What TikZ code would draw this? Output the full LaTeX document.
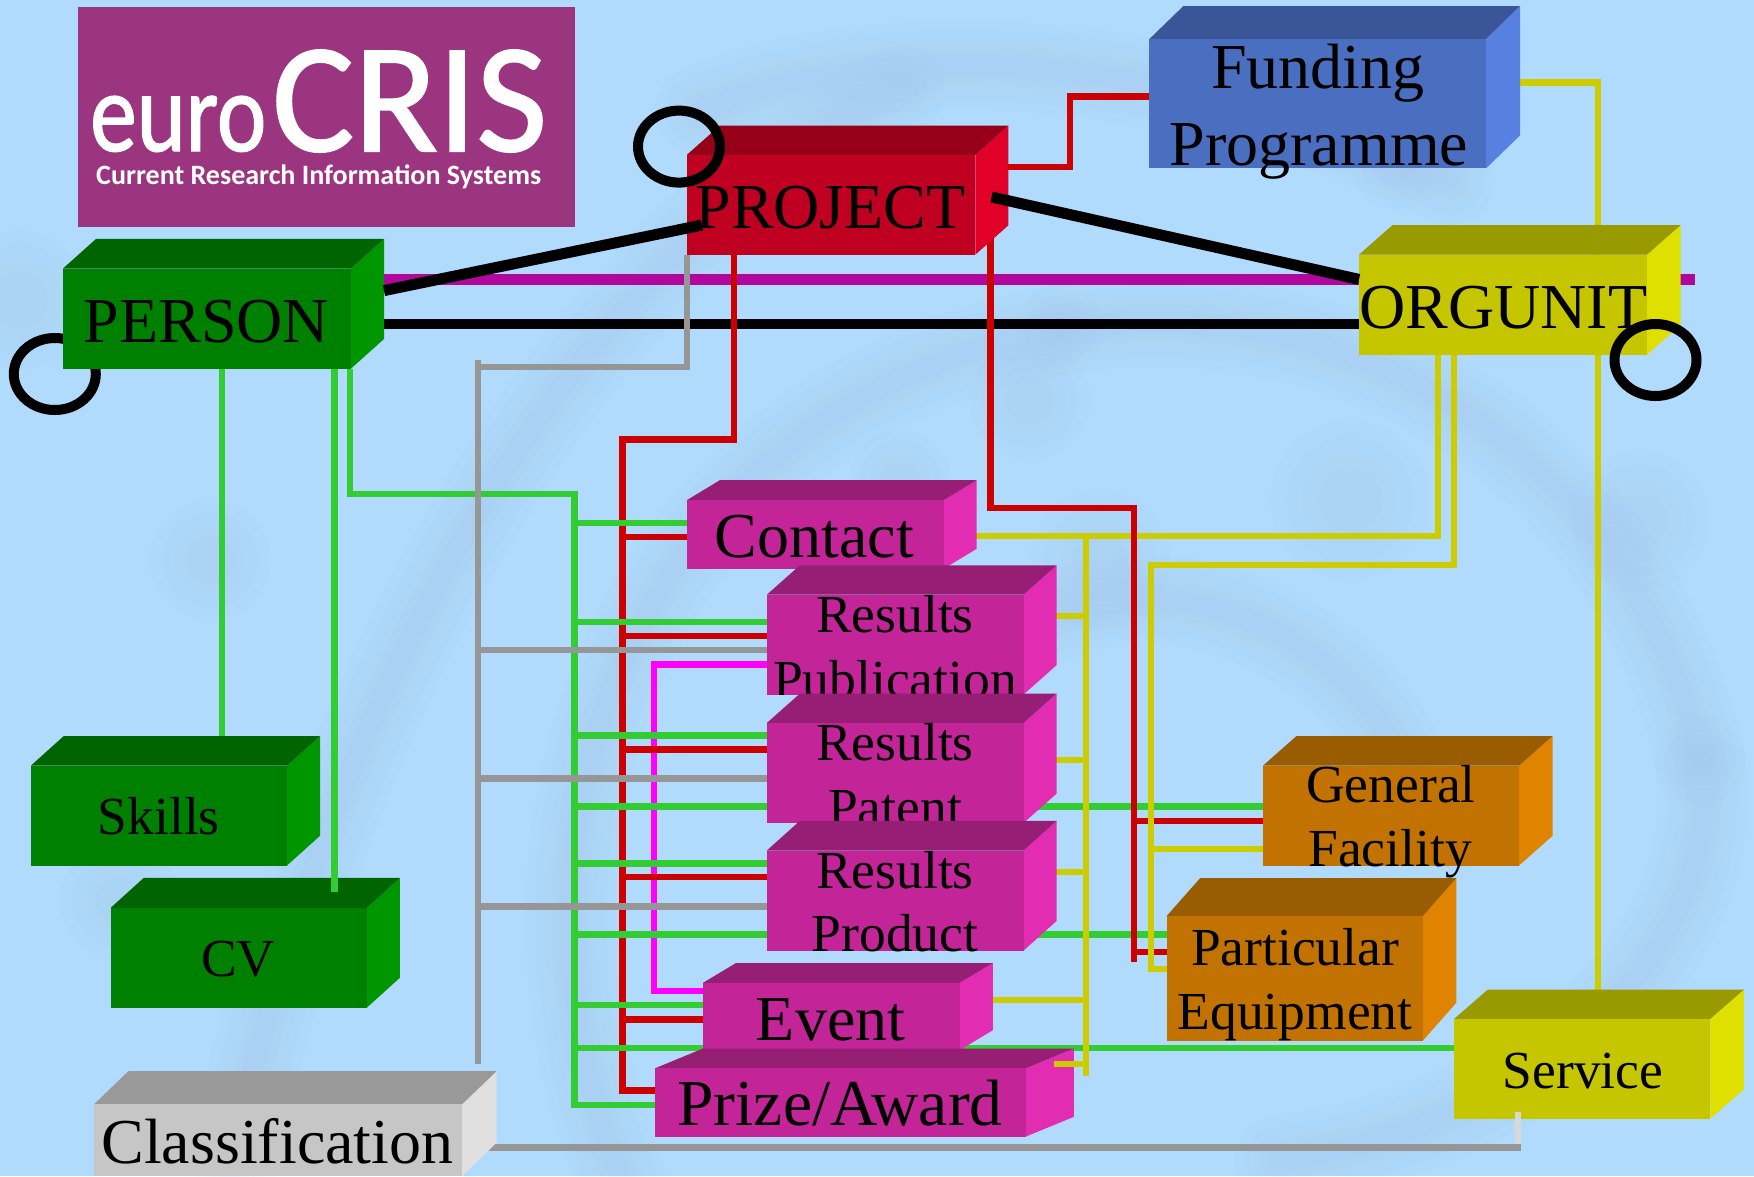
\documentclass[tikz,border=0pt]{standalone}
\usepackage{fontspec}
\setmainfont{Liberation Serif}
\newfontfamily\logofont[FakeBold=1.3]{Carlito}
\newfontfamily\logotagfont{Carlito}
\usetikzlibrary{calc}
\pgfdeclarelayer{back}
\pgfdeclarelayer{wires}
\pgfdeclarelayer{over}
\pgfsetlayers{back,wires,main,over}
\definecolor{bgblue}{HTML}{B1DBFC}
\definecolor{swirl}{HTML}{7A9CC2}
\definecolor{logoc}{HTML}{9C3580}
\definecolor{gn}{HTML}{33CC33}
\definecolor{rd}{HTML}{CC0000}
\definecolor{yl}{HTML}{CCCC00}
\definecolor{gy}{HTML}{969696}
\definecolor{mg}{HTML}{FF00FF}
\definecolor{pl}{HTML}{B0089C}
\definecolor{stub}{HTML}{D8D8D8}
\tikzset{
  x=1pt,y=-1pt,
  wire/.style={line width=6.3pt,line join=miter,line cap=butt},
  gwire/.style={wire,gn},
  rwire/.style={wire,rd},
  ywire/.style={wire,yl},
  gywire/.style={wire,gy},
  mwire/.style={wire,mg},
  thickbar/.style={line width=10.5pt,black},
  assoc/.style={line width=11pt,black},
  loopring/.style={line width=10pt,black},
  big/.style={font=\fontsize{64}{64}\selectfont,anchor=base,inner sep=0pt},
  small/.style={font=\fontsize{53.5}{53.5}\selectfont,anchor=base,inner sep=0pt},
  soft/.style={swirl,line cap=round,opacity=.02}
}
% name, x1,y1,x2,y2,dx,dy, front, side (top colour from \cubetop)
\newcommand{\cubebox}[9]{%
  \pgfmathsetmacro{\cbw}{#4-#2}\pgfmathsetmacro{\cbh}{#5-#3}%
  \fill[#9] (#4,#3) -- ++(#6,-#7) -- ++(0,\cbh) -- (#4,#5) -- cycle;
  \fill[\cubetop] (#2,#3) -- ++(#6,-#7) -- ++(\cbw,0) -- (#4,#3) -- cycle;
  \node[fill=#8,draw=none,inner sep=0pt,outer sep=0pt,anchor=north west,
        minimum width=\cbw pt,minimum height=\cbh pt] (#1) at (#2,#3) {};
}
\newcommand{\softarc}[1]{%
  \foreach \w in {90,70,52,36,22}{\draw[soft,line width=\w pt] #1;}%
}
\begin{document}
\begin{tikzpicture}
\useasboundingbox (0,0) rectangle (1754,1176);

% ---------- backdrop
\begin{pgfonlayer}{back}
\fill[bgblue] (0,0) rectangle (1754,1176);
\softarc{(230,1170) .. controls (330,700) and (560,260) .. (900,90)}
\softarc{(620,1176) .. controls (480,820) and (640,400) .. (1060,330)}
\softarc{(1060,330) .. controls (1380,280) and (1640,480) .. (1700,760)}
\softarc{(1700,760) .. controls (1730,960) and (1520,1130) .. (1280,1160)}
\softarc{(700,110) .. controls (900,30) and (1200,60) .. (1450,180)}
\softarc{(1050,620) .. controls (1180,560) and (1350,640) .. (1400,760)}
\foreach \a/\b/\r in {1100/560/70,1350/500/80,1030/400/60,1400/160/50,1640/520/70,210/560/60,900/480/50,120/900/60,20/300/70}{
  \foreach \k in {1,.8,.6,.4}{\fill[swirl,opacity=.02] (\a,\b) circle [radius=\k*\r];}
}
\end{pgfonlayer}

% ---------- logo
\node[fill=logoc,inner sep=0pt,outer sep=0pt,anchor=north west,minimum width=497pt,minimum height=220pt] (logo) at (78,7) {};
\node[anchor=base west,inner sep=0pt,text=white] (logoeuro) at (90,151)
  {\resizebox{176pt}{55pt}{\fontsize{100}{100}\logofont euro}};
\node[anchor=base west,inner sep=0pt,text=white] (logocris) at (272,151)
  {\resizebox{275pt}{101pt}{\fontsize{100}{100}\logofont CRIS}};
\node[anchor=base west,inner sep=0pt,text=white] (logotag) at (96,184.5)
  {\resizebox{445pt}{!}{\fontsize{30}{30}\logotagfont\bfseries Current Research Information Systems}};

% ---------- boxes
\definecolor{top1}{HTML}{006400}
\definecolor{fr1}{HTML}{008000}
\definecolor{sd1}{HTML}{009600}
\def\cubetop{top1}
\cubebox{person}{63}{268.5}{351}{368.6}{33}{29.6}{fr1}{sd1}
\node[big] (tperson) at (206.4,342) {PERSON};
\cubebox{skills}{30.8}{765.7}{287}{865.5}{33}{29.7}{fr1}{sd1}
\node[small] (tskills) at (158.8,834.4) {Skills};
\cubebox{cv}{110.7}{907.8}{366.9}{1007.6}{33}{29.9}{fr1}{sd1}
\node[small] (tcv) at (238.3,976.9) {CV};

\definecolor{top2}{HTML}{960018}
\definecolor{fr2}{HTML}{C00020}
\definecolor{sd2}{HTML}{E00028}
\def\cubetop{top2}
\cubebox{project}{686.8}{154.9}{975.4}{254.6}{33}{29.3}{fr2}{sd2}
\node[big] (tproject) at (830.6,228) {PROJECT};

\definecolor{top3}{HTML}{3A5698}
\definecolor{fr3}{HTML}{4A6EC0}
\definecolor{sd3}{HTML}{5880E0}
\def\cubetop{top3}
\cubebox{funding}{1149.4}{39}{1486}{168.4}{34}{33}{fr3}{sd3}
\node[big] (tfund) at (1318,88) {Funding};
\node[big] (tprog) at (1319,165) {Programme};

\definecolor{top4}{HTML}{999900}
\definecolor{fr4}{HTML}{C6C600}
\definecolor{sd4}{HTML}{E0E000}
\def\cubetop{top4}
\cubebox{orgunit}{1359}{254.6}{1647}{354.7}{33.7}{29.6}{fr4}{sd4}
\node[big] (torg) at (1503.4,328) {ORGUNIT};
\cubebox{service}{1454.2}{1018.8}{1710.3}{1118.6}{33.6}{29.2}{fr4}{sd4}
\node[small] (tserv) at (1583,1088.6) {Service};

\definecolor{top5}{HTML}{961E75}
\definecolor{fr5}{HTML}{C32598}
\definecolor{sd5}{HTML}{E22CB2}
\def\cubetop{top5}
\cubebox{contact}{686.8}{500.2}{943.6}{568.8}{33}{20}{fr5}{sd5}
\node[big] (tcontact) at (814.5,557) {Contact};
\cubebox{respub}{766.8}{594.7}{1023.5}{694.5}{33}{29.3}{fr5}{sd5}
\node[small] (tpub1) at (895,632) {Results};
\begin{scope}
\clip (700,640) rectangle (1023.5,694);
\node[small] (tpub2) at (895,697) {Publication};
\end{scope}
\cubebox{respat}{766.8}{723}{1023.5}{823}{33}{29.3}{fr5}{sd5}
\node[small] (tpat1) at (895,760.5) {Results};
\begin{scope}
\clip (700,770) rectangle (1023.5,821);
\node[small] (tpat2) at (895,825) {Patent};
\end{scope}
\cubebox{resprod}{766.8}{850.5}{1023.5}{950.6}{33}{29.6}{fr5}{sd5}
\node[small] (tprod1) at (895,888) {Results};
\node[small] (tprod2) at (895,951) {Product};
\cubebox{event}{703}{982.8}{959.8}{1050}{33}{19.8}{fr5}{sd5}
\node[big] (tevent) at (830.6,1040) {Event};
\cubebox{prize}{655}{1068.3}{1025.8}{1136.6}{48}{19.8}{fr5}{sd5}
\node[big,font=\fontsize{65.5}{65.5}\selectfont] (tprize) at (840,1125) {Prize/Award};

\definecolor{top6}{HTML}{995C00}
\definecolor{fr6}{HTML}{C27200}
\definecolor{sd6}{HTML}{E08400}
\def\cubetop{top6}
\cubebox{general}{1262.9}{765.7}{1519}{865.5}{33.6}{29.7}{fr6}{sd6}
\node[small] (tgen1) at (1391,802.5) {General};
\node[small] (tgen2) at (1390,866) {Facility};
\cubebox{partic}{1166.7}{916}{1422.9}{1040.6}{33.5}{38}{fr6}{sd6}
\node[small] (tpar1) at (1295,965) {Particular};
\node[small] (tpar2) at (1295,1029) {Equipment};

\definecolor{top7}{HTML}{999999}
\definecolor{fr7}{HTML}{C6C6C6}
\definecolor{sd7}{HTML}{E0E0E0}
\def\cubetop{top7}
\cubebox{classif}{94}{1104.3}{462}{1176}{34.6}{33.3}{fr7}{sd7}
\node[big] (tclass) at (277.4,1163.6) {Classification};

% bus positions (top ends of the vertical runs)
\coordinate (gbus) at (574.4,494);
\coordinate (rbus) at (622.5,439.5);
\coordinate (gybus) at (478,360);
\coordinate (ybus) at (1086,536);
\coordinate (r2bus) at (1134.3,508);
\coordinate (y2bus) at (1151,565);
\coordinate (mbus) at (654.3,664.5);

\begin{pgfonlayer}{wires}
% thick associations
\draw[line width=10.5pt,pl] (person.east |- 0,279.7) -- (1694.7,279.7);
\draw[thickbar] (384,324) -- (orgunit.west |- 0,324);
\draw[loopring] (54.8,374) ellipse [x radius=41,y radius=36];

% magenta
\draw[mwire] (respub.west |- mbus) -- (mbus) |- (event.west |- 0,991);

% red: project to the left-hand bus and to funding
\draw[rwire] ([xshift=33pt,yshift=-12pt]project.north east) -| (1070,96.4) -- (funding.west |- 0,96.4);
\draw[rwire] ([xshift=47.5pt]project.south west) |- (rbus) |- (prize.west |- 0,1090.5);
\foreach \tgt/\yy in {contact/537,respub/636,respat/749.6,resprod/877,event/1019.6}{
  \draw[rwire] (\tgt.west |- 0,\yy) -| (rbus);
}

% green
\draw[gwire] ([xshift=159pt]person.south west) -- ([xshift=191.2pt,yshift=29.7pt]skills.north west);
\draw[gwire] ([xshift=-1pt]person.south east) |- (gbus) -- (574.4,1104.7) -- (prize.west |- 0,1104.7);
\foreach \tgt/\yy in {contact/522.7,respub/622.1,respat/735.4,respat/806.6,resprod/863.6,resprod/934.5,event/1005.3,event/1048}{
  \draw[gwire] (\tgt.west |- 0,\yy) -| (gbus);
}
\draw[gwire] (574.4,806.6) -- (general.west |- 0,806.6);
\draw[gwire] (574.4,934.5) -- (partic.west |- 0,934.5);
\draw[gwire] (574.4,1048) -- (service.west |- 0,1048);

% yellow: contact, results, event, funding
\draw[ywire] (1519,82.5) -| (1598,990);
\draw[ywire] (976,536) -- (1438,536) -- ([xshift=79pt]orgunit.south west);
\draw[ywire] (ybus) -- (1086,1076);
\foreach \yy/\xx in {616/1054,760/1054,872/1054,1000/990.5}{
  \draw[ywire] (\xx,\yy) -- (1086,\yy);
}

% red: project to the facilities
\draw[rwire] (990.5,238) |- (r2bus) -- (1134.3,962);
\draw[rwire] (1134.3,821) -- (general.west |- 0,821);
\draw[rwire] (1134.3,951.7) -- (partic.west |- 0,951.7);

% yellow: orgunit to the facilities
\draw[ywire] ([xshift=95pt]orgunit.south west) |- (y2bus) |- (partic.west |- 0,969);
\draw[ywire] (1151,849) -- (general.west |- 0,849);

% grey
\draw[gywire] (project.south west) |- (478,366.7);
\draw[gywire] (gybus) -- (478,1063.5);
\foreach \yy in {650,778.5,906.4}{
  \draw[gywire] (respub.west |- 0,\yy) -| (gybus);
}
\draw[gywire] (classif.east |- 0,1147.5) -| (1518,1144);
\end{pgfonlayer}

\begin{pgfonlayer}{over}
\draw[gwire] ([xshift=271.5pt]person.south west) -- ([xshift=223.8pt,yshift=16pt]cv.north west);
\draw[ywire] (1054.3,1064) -- (1086,1064);
\draw[wire,line width=5.6pt,stub] ([xshift=63.8pt,yshift=6.4pt]service.south west) -- (1518,1144);
\draw[assoc] (991.6,197) -- (orgunit.west |- 0,279.4);
\draw[assoc] (384,290.6) -- (702,225);
\draw[loopring] (679,146.6) ellipse [x radius=41,y radius=36];
\draw[loopring] (1655.5,360) ellipse [x radius=41,y radius=36];
\end{pgfonlayer}
\end{tikzpicture}
\end{document}
